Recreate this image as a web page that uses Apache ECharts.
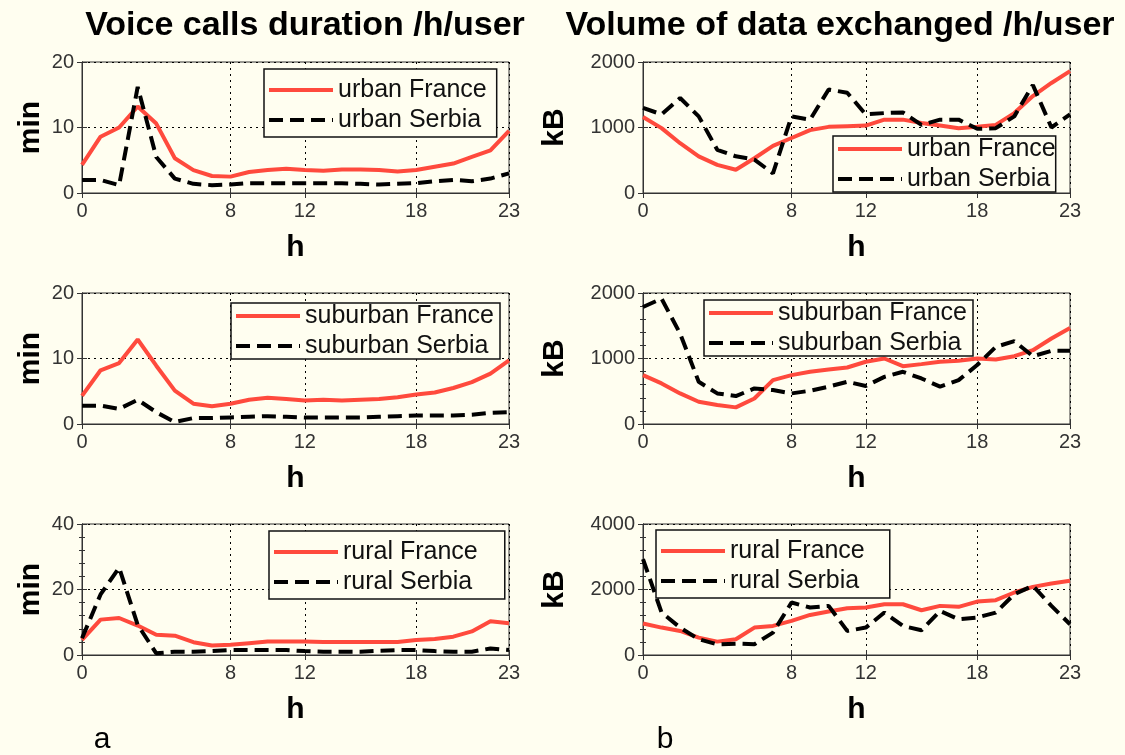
<!DOCTYPE html>
<html>
<head>
<meta charset="utf-8">
<script src="https://cdn.jsdelivr.net/npm/echarts@6/dist/echarts.min.js"></script>
<style>
html, body { margin: 0; padding: 0; background: #fffef0; }
#main { width: 1125px; height: 755px; }
</style>
</head>
<body>
<div id="main"></div>
<script>
var hours = [0, 1, 2, 3, 4, 5, 6, 7, 8, 9, 10, 11, 12, 13, 14, 15, 16, 17, 18, 19, 20, 21, 22, 23];
var xTicks = [0, 8, 12, 18, 23];

// voice calls duration, min per hour per user
var voiceUrbanFrance = [4.3, 8.6, 10, 13.2, 10.6, 5.3, 3.5, 2.6, 2.5, 3.2, 3.5, 3.7, 3.5, 3.4, 3.6, 3.6, 3.5, 3.3, 3.5, 4.0, 4.5, 5.5, 6.5, 9.5];
var voiceUrbanSerbia = [2, 2, 1.2, 16.2, 5.5, 2.2, 1.4, 1.2, 1.3, 1.5, 1.5, 1.5, 1.5, 1.5, 1.5, 1.4, 1.3, 1.4, 1.5, 1.8, 2.0, 1.8, 2.2, 3.0];
var voiceSuburbanFrance = [4.3, 8.2, 9.3, 12.9, 8.9, 5.1, 3.1, 2.7, 3.1, 3.7, 4.0, 3.8, 3.6, 3.7, 3.6, 3.7, 3.8, 4.1, 4.5, 4.8, 5.5, 6.4, 7.7, 9.7];
var voiceSuburbanSerbia = [2.8, 2.8, 2.3, 3.7, 1.8, 0.3, 0.9, 0.9, 1.0, 1.1, 1.2, 1.1, 1.0, 1.0, 1.0, 1.0, 1.1, 1.2, 1.3, 1.3, 1.3, 1.4, 1.7, 1.8];
var voiceRuralFrance = [4.6, 10.8, 11.3, 9.0, 6.2, 5.9, 3.9, 2.9, 3.1, 3.6, 4.1, 4.1, 4.1, 4.0, 4.0, 4.0, 4.0, 4.0, 4.6, 4.9, 5.6, 7.2, 10.3, 9.7];
var voiceRuralSerbia = [5.1, 18.5, 26.7, 9.2, 0.5, 1.0, 1.0, 1.2, 1.5, 1.5, 1.5, 1.5, 1.2, 1.0, 1.0, 1.0, 1.3, 1.5, 1.5, 1.2, 1.0, 1.0, 2.0, 1.5];

// volume of data exchanged, kB per hour per user
var dataUrbanFrance = [1160, 990, 760, 560, 430, 355, 530, 720, 840, 960, 1010, 1020, 1030, 1120, 1120, 1070, 1030, 990, 1010, 1040, 1220, 1480, 1680, 1860];
var dataUrbanSerbia = [1300, 1200, 1450, 1170, 660, 560, 510, 300, 1170, 1120, 1580, 1530, 1200, 1220, 1230, 1040, 1120, 1120, 980, 990, 1170, 1650, 1000, 1200];
var dataSuburbanFrance = [746, 620, 467, 340, 290, 254, 390, 670, 746, 797, 832, 863, 950, 1000, 883, 914, 950, 964, 1000, 985, 1035, 1127, 1305, 1467];
var dataSuburbanSerbia = [1787, 1914, 1380, 645, 467, 426, 543, 518, 467, 508, 570, 645, 580, 720, 797, 695, 570, 670, 900, 1178, 1264, 1035, 1117, 1117];
var dataRuralFrance = [960, 837, 735, 530, 408, 480, 837, 888, 1040, 1224, 1327, 1430, 1450, 1550, 1550, 1367, 1500, 1470, 1630, 1673, 1908, 2080, 2184, 2265];
var dataRuralSerbia = [2930, 1296, 837, 480, 327, 347, 327, 684, 1602, 1450, 1500, 735, 837, 1296, 888, 755, 1347, 1092, 1143, 1296, 1857, 2112, 1500, 939];

var panels = [
    { names: ['urban France', 'urban Serbia'], fr: voiceUrbanFrance, rs: voiceUrbanSerbia, col: 0, row: 0, yMax: 20, yName: 'min', minor: false, lg: [264, 69, [8, 10, 4, 3]] },
    { names: ['urban France', 'urban Serbia'], fr: dataUrbanFrance, rs: dataUrbanSerbia, col: 1, row: 0, yMax: 2000, yName: 'kB', minor: false, lg: [833, 136, [0, 0, 0, 3]] },
    { names: ['suburban France', 'suburban Serbia'], fr: voiceSuburbanFrance, rs: voiceSuburbanSerbia, col: 0, row: 1, yMax: 20, yName: 'min', minor: false, lg: [231, 303, [0, 6, 0, 3]] },
    { names: ['suburban France', 'suburban Serbia'], fr: dataSuburbanFrance, rs: dataSuburbanSerbia, col: 1, row: 1, yMax: 2000, yName: 'kB', minor: true, lg: [704, 300, [0, 6, 0, 3]] },
    { names: ['rural France', 'rural Serbia'], fr: voiceRuralFrance, rs: voiceRuralSerbia, col: 0, row: 2, yMax: 40, yName: 'min', minor: true, lg: [269, 531, [8, 27, 4, 3]] },
    { names: ['rural France', 'rural Serbia'], fr: dataRuralFrance, rs: dataRuralSerbia, col: 1, row: 2, yMax: 4000, yName: 'kB', minor: true, lg: [656, 530, [8, 25, 4, 3]] }
];

var FONT = 'Liberation Sans, Arial, sans-serif';
var AX = '#333';
var colLeft = [82, 643];
var rowTop = [62, 293, 524];
var yNameGap = [36, 73];
var dotted = { show: true, lineStyle: { type: [2, 4], color: '#000', width: 1 } };

var grid = [], xAxis = [], yAxis = [], series = [], legend = [];

function pairs(vals) {
    return hours.map(function (h, i) { return [h, vals[i]]; });
}

panels.forEach(function (p, i) {
    grid.push({
        left: colLeft[p.col], top: rowTop[p.row], width: 427, height: 131,
        show: true, borderColor: AX, borderWidth: 1, backgroundColor: 'transparent'
    });
    xAxis.push({
        gridIndex: i, type: 'value', min: 0, max: 23, position: 'bottom',
        axisLine: { show: true, lineStyle: { color: AX } },
        axisTick: { inside: true, length: 5, customValues: xTicks, lineStyle: { color: AX } },
        axisLabel: { customValues: xTicks, fontSize: 20, color: AX, margin: 8, fontFamily: FONT },
        splitLine: dotted,
        name: 'h', nameLocation: 'middle', nameGap: 40,
        nameTextStyle: { fontSize: 30, fontWeight: 'bold', color: '#000', fontFamily: FONT }
    });
    xAxis.push({
        gridIndex: i, type: 'value', min: 0, max: 23, position: 'top',
        axisLine: { show: true, lineStyle: { color: AX } },
        axisTick: { inside: true, length: 5, customValues: xTicks, lineStyle: { color: AX } },
        axisLabel: { show: false },
        splitLine: { show: false }
    });
    var yBase = {
        gridIndex: i, type: 'value', min: 0, max: p.yMax, interval: p.yMax / 2,
        axisLine: { show: true, lineStyle: { color: AX } },
        axisTick: { inside: true, length: 5, lineStyle: { color: AX } },
        minorTick: { show: p.minor, splitNumber: 5, length: 3, lineStyle: { color: AX } }
    };
    yAxis.push(Object.assign({}, yBase, {
        position: 'left',
        axisLabel: {
            fontSize: 20, color: AX, margin: 8, fontFamily: FONT,
            formatter: function (v) { return String(v); }
        },
        splitLine: dotted,
        name: p.yName, nameLocation: 'middle', nameGap: yNameGap[p.col], nameRotate: 90,
        nameTextStyle: { fontSize: 30, fontWeight: 'bold', color: '#000', fontFamily: FONT }
    }));
    yAxis.push(Object.assign({}, yBase, {
        position: 'right',
        axisLabel: { show: false },
        splitLine: { show: false }
    }));
    series.push({
        name: p.names[0], type: 'line', xAxisIndex: 2 * i, yAxisIndex: 2 * i,
        data: pairs(p.fr), symbol: 'none', z: 3,
        lineStyle: { color: '#ff4a3d', width: 4 }, itemStyle: { color: '#ff4a3d' }
    });
    series.push({
        name: p.names[1], type: 'line', xAxisIndex: 2 * i, yAxisIndex: 2 * i,
        data: pairs(p.rs), symbol: 'none', z: 4,
        lineStyle: { color: '#000', width: 4, type: [14, 7] }, itemStyle: { color: '#000' }
    });
    legend.push({
        data: p.names, orient: 'vertical', left: p.lg[0], top: p.lg[1], padding: p.lg[2],
        itemWidth: 64, itemHeight: 14, itemGap: 4,
        backgroundColor: '#fffef0', borderColor: '#111', borderWidth: 1.5,
        lineStyle: { width: 4 },
        itemStyle: { opacity: 0 },
        textStyle: { fontSize: 25, color: '#111', fontFamily: FONT, lineHeight: 26 },
        selectedMode: false, z: 10
    });
});

var myChart = echarts.init(document.getElementById('main'));
var option = {
    backgroundColor: '#fffef0',
    animation: false,
    grid: grid,
    xAxis: xAxis,
    yAxis: yAxis,
    legend: legend,
    series: series,
    graphic: [
        { type: 'text', x: 305, y: 26, style: { text: 'Voice calls duration /h/user', font: 'bold 34px ' + FONT, fill: '#000', align: 'center', verticalAlign: 'middle' } },
        { type: 'text', x: 840, y: 26, style: { text: 'Volume of data exchanged /h/user', font: 'bold 34px ' + FONT, fill: '#000', align: 'center', verticalAlign: 'middle' } },
        { type: 'text', x: 102, y: 740, style: { text: 'a', font: '30px ' + FONT, fill: '#000', align: 'center', verticalAlign: 'middle' } },
        { type: 'text', x: 665, y: 740, style: { text: 'b', font: '30px ' + FONT, fill: '#000', align: 'center', verticalAlign: 'middle' } }
    ]
};
myChart.setOption(option);
</script>
</body>
</html>
